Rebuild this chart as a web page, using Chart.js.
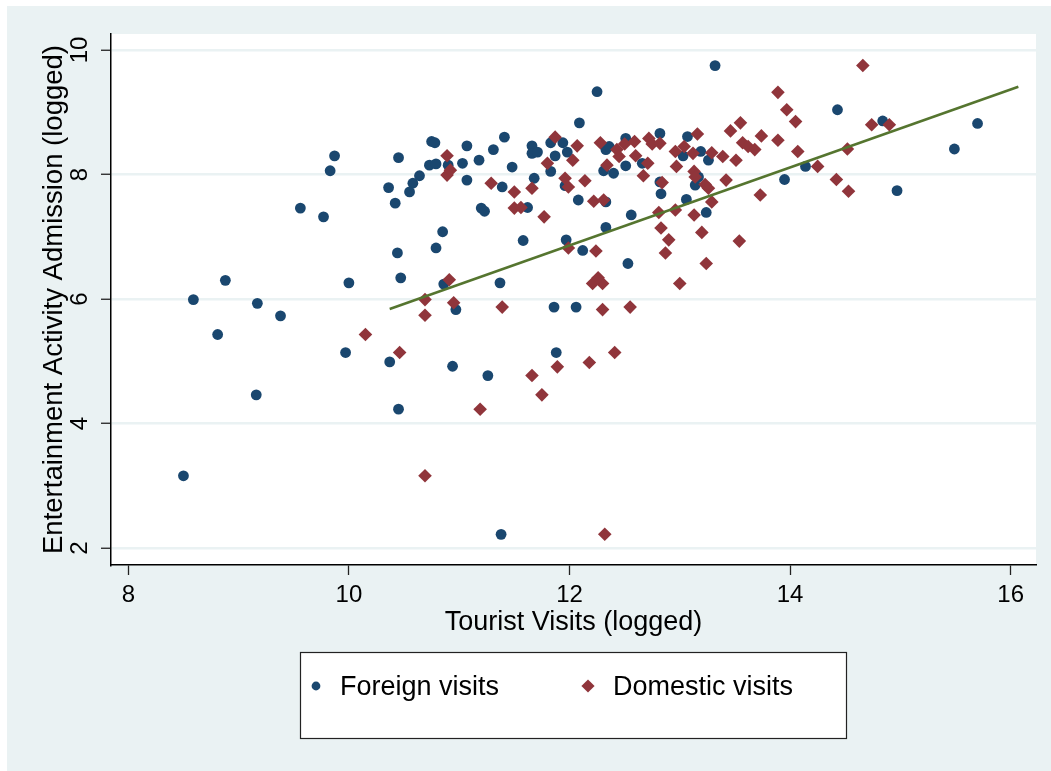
<!DOCTYPE html>
<html>
<head>
<meta charset="utf-8">
<title>Tourist visits and entertainment admission</title>
<script src="https://cdn.jsdelivr.net/npm/chart.js@4.4.1/dist/chart.umd.min.js"></script>
<style>
  html, body { margin: 0; padding: 0; background: #ffffff; }
  canvas { display: block; }
</style>
</head>
<body>
<canvas id="chart" width="1051" height="771"></canvas>
<script>
// values (logged scales)
const foreignX = [8.50, 8.59, 8.81, 8.88, 9.17, 9.38, 9.16, 9.56, 9.77, 9.83, 9.87, 10.00, 9.97, 10.36, 10.45, 10.42,
  10.58, 10.55, 10.64, 10.73, 10.79, 10.85, 10.79, 10.44, 10.47, 10.37, 10.86, 10.94, 10.45, 11.38, 10.75, 10.78,
  10.90, 11.03, 11.07, 11.07, 11.18, 11.31, 11.41, 11.48, 11.39, 11.20, 11.23, 11.62, 11.66, 11.66, 11.71, 11.83,
  11.94, 11.87, 11.98, 11.68, 11.83, 11.96, 12.08, 12.09, 10.97, 11.37, 11.58, 11.97, 11.86, 12.06, 12.33, 12.36,
  12.51, 12.82, 13.07, 13.03, 13.19, 13.26, 12.31, 12.40, 12.51, 12.66, 12.82, 12.83, 13.14, 13.17, 12.33, 13.06,
  13.24, 12.56, 13.95, 12.33, 12.12, 12.53, 11.88, 11.26, 12.25, 13.32, 14.43, 14.84, 14.14, 14.97, 15.49, 15.70];
const foreignY = [3.16, 5.99, 5.43, 6.30, 5.93, 5.73, 4.46, 7.46, 7.32, 8.06, 8.30, 6.26, 5.14, 7.79, 8.27, 7.54,
  7.86, 7.72, 7.98, 8.15, 8.17, 7.08, 6.82, 6.74, 6.34, 4.99, 6.24, 4.92, 4.23, 2.22, 8.53, 8.51,
  8.15, 8.18, 8.46, 7.91, 8.23, 8.40, 8.60, 8.12, 7.80, 7.46, 7.41, 7.47, 8.46, 8.34, 8.36, 8.51,
  8.51, 8.30, 8.36, 7.94, 8.05, 7.82, 7.59, 8.83, 5.83, 6.26, 6.94, 6.95, 5.87, 5.87, 8.40, 8.45,
  8.58, 8.66, 8.61, 8.30, 8.37, 8.23, 8.06, 8.02, 8.14, 8.18, 7.88, 7.69, 7.83, 7.96, 7.56, 7.60,
  7.39, 7.35, 7.92, 7.15, 6.78, 6.57, 5.14, 4.77, 9.33, 9.75, 9.04, 8.86, 8.13, 7.74, 8.41, 8.82];

const domesticX = [10.69, 10.69, 10.15, 10.46, 10.89, 10.89, 10.91, 10.69, 12.32, 10.92, 11.29, 11.50, 11.66, 11.50,
  11.56, 11.77, 11.87, 11.80, 11.96, 11.99, 12.03, 12.07, 10.95, 11.39, 11.99, 12.28, 12.43, 12.50, 12.59, 12.45,
  12.60, 12.72, 12.75, 12.82, 12.96, 13.04, 13.12, 13.16, 13.29, 13.39, 13.51, 13.46, 13.55, 13.57, 13.62, 13.68,
  13.74, 13.89, 14.05, 14.07, 12.34, 12.71, 12.67, 12.97, 13.13, 13.14, 12.84, 13.23, 13.26, 13.42, 13.29, 13.73,
  12.14, 12.22, 12.31, 12.81, 12.96, 13.13, 12.83, 12.90, 12.87, 13.20, 13.54, 13.24, 13.00, 12.24, 12.21, 12.30,
  12.26, 12.30, 12.55, 14.66, 13.89, 13.97, 14.25, 14.42, 14.53, 14.52, 14.74, 14.90, 12.41, 12.18, 11.89, 11.66,
  11.75, 11.19];
const domesticY = [5.99, 5.74, 5.43, 5.14, 8.30, 7.99, 6.31, 3.16, 2.22, 8.07, 7.86, 7.72, 7.78, 7.46,
  7.47, 7.32, 8.60, 8.18, 7.94, 7.80, 8.23, 8.46, 5.94, 5.87, 6.82, 8.51, 8.40, 8.49, 8.53, 8.29,
  8.30, 8.58, 8.49, 8.50, 8.37, 8.45, 8.34, 8.65, 8.35, 8.29, 8.23, 8.70, 8.83, 8.51, 8.45, 8.40,
  8.62, 8.55, 8.85, 8.37, 8.15, 8.18, 7.98, 8.13, 8.05, 7.96, 7.87, 7.84, 7.78, 7.91, 7.56, 7.67,
  7.90, 7.57, 7.59, 7.39, 7.43, 7.35, 7.14, 6.95, 6.74, 7.07, 6.93, 6.57, 6.25, 6.77, 6.25, 6.25,
  6.34, 5.83, 5.87, 9.75, 9.32, 9.04, 8.13, 7.92, 7.73, 8.41, 8.80, 8.80, 5.14, 4.98, 4.91, 4.77,
  4.46, 4.23];

// fitted line, its two ends
const fitX = [10.37, 16.07];
const fitY = [5.84, 9.41];

const xTicks = [8, 10, 12, 14, 16];
const yTicks = [2, 4, 6, 8, 10];

const toPoints = (xs, ys) => xs.map((x, i) => ({ x: x, y: ys[i] }));

const FONT = 'Liberation Sans, Arial, Helvetica, sans-serif';
const BG = '#eaf2f3';

// outer tinted region and white plot region
const backdrop = {
    id: 'backdrop',
    beforeDraw(chart) {
        const ctx = chart.ctx;
        const a = chart.chartArea;
        ctx.save();
        ctx.fillStyle = '#ffffff';
        ctx.fillRect(0, 0, chart.width, chart.height);
        ctx.fillStyle = BG;
        ctx.fillRect(7, 6, chart.width - 7, chart.height - 6);
        ctx.fillStyle = '#ffffff';
        ctx.fillRect(a.left, a.top, a.right - a.left, a.bottom - a.top);
        ctx.restore();
    }
};

// Stata style legend in a framed box under the plot
const boxLegend = {
    id: 'boxLegend',
    afterDraw(chart) {
        const ctx = chart.ctx;
        ctx.save();
        ctx.fillStyle = '#ffffff';
        ctx.fillRect(300, 652, 546, 86);
        ctx.strokeStyle = '#222222';
        ctx.lineWidth = 1.2;
        ctx.strokeRect(300.5, 652.5, 546, 86);

        const items = [
            { ds: chart.data.datasets[2], mx: 316, tx: 340, r: 4.4 },
            { ds: chart.data.datasets[1], mx: 588, tx: 613, r: 6.6 }
        ];
        items.forEach(it => {
            ctx.fillStyle = it.ds.backgroundColor;
            ctx.beginPath();
            if (it.ds.pointStyle === 'rectRot') {
                ctx.moveTo(it.mx, 686 - it.r);
                ctx.lineTo(it.mx + it.r, 686);
                ctx.lineTo(it.mx, 686 + it.r);
                ctx.lineTo(it.mx - it.r, 686);
                ctx.closePath();
            } else {
                ctx.arc(it.mx, 686, it.r, 0, Math.PI * 2);
            }
            ctx.fill();
            ctx.fillStyle = '#000000';
            ctx.font = '27px ' + FONT;
            ctx.textAlign = 'left';
            ctx.textBaseline = 'alphabetic';
            ctx.fillText(it.ds.label, it.tx, 695);
        });
        ctx.restore();
    }
};

new Chart(document.getElementById('chart'), {
    type: 'scatter',
    data: {
        datasets: [
            {
                type: 'line',
                label: 'Fitted values',
                data: toPoints(fitX, fitY),
                borderColor: '#55752f',
                borderWidth: 2.5,
                pointRadius: 0,
                fill: false,
                order: 0
            },
            {
                label: 'Domestic visits',
                data: toPoints(domesticX, domesticY),
                pointStyle: 'rectRot',
                pointRadius: 6.8,
                backgroundColor: '#90353b',
                borderColor: '#90353b',
                pointBorderWidth: 0,
                order: 1
            },
            {
                label: 'Foreign visits',
                data: toPoints(foreignX, foreignY),
                pointStyle: 'circle',
                pointRadius: 5.4,
                backgroundColor: '#1a476f',
                borderColor: '#1a476f',
                pointBorderWidth: 0,
                order: 2
            }
        ]
    },
    options: {
        responsive: false,
        animation: false,
        events: [],
        layout: { padding: { top: 34, right: 15, bottom: 131, left: 0 } },
        plugins: {
            legend: { display: false },
            tooltip: { enabled: false }
        },
        scales: {
            x: {
                type: 'linear',
                min: 7.843,
                max: 16.23,
                afterBuildTicks: s => { s.ticks = xTicks.map(v => ({ value: v })); },
                afterFit: s => { s.height = 75; },
                grid: { drawOnChartArea: false, tickColor: '#222', tickLength: 10, tickWidth: 1.3 },
                border: { color: '#000', width: 1.5 },
                ticks: { padding: 6, maxRotation: 0, color: '#000', font: { family: FONT, size: 24 } },
                title: {
                    display: true,
                    text: 'Tourist Visits (logged)',
                    color: '#000',
                    font: { family: FONT, size: 27 },
                    padding: { top: 0, bottom: 1 }
                }
            },
            y: {
                type: 'linear',
                min: 1.727,
                max: 10.257,
                afterBuildTicks: s => { s.ticks = yTicks.map(v => ({ value: v })); },
                afterFit: s => { s.width = 111; },
                grid: { color: BG, lineWidth: 2.5, tickColor: '#222', tickLength: 10, tickWidth: 1.3 },
                border: { color: '#000', width: 1.5 },
                ticks: {
                    minRotation: 90, maxRotation: 90, crossAlign: 'center', padding: 7,
                    color: '#000', font: { family: FONT, size: 24 }
                },
                title: {
                    display: true,
                    text: 'Entertainment Activity Admission (logged)',
                    color: '#000',
                    font: { family: FONT, size: 27.5 },
                    padding: { top: 37.5, bottom: 0 }
                }
            }
        }
    },
    plugins: [backdrop, boxLegend]
});
</script>
</body>
</html>
